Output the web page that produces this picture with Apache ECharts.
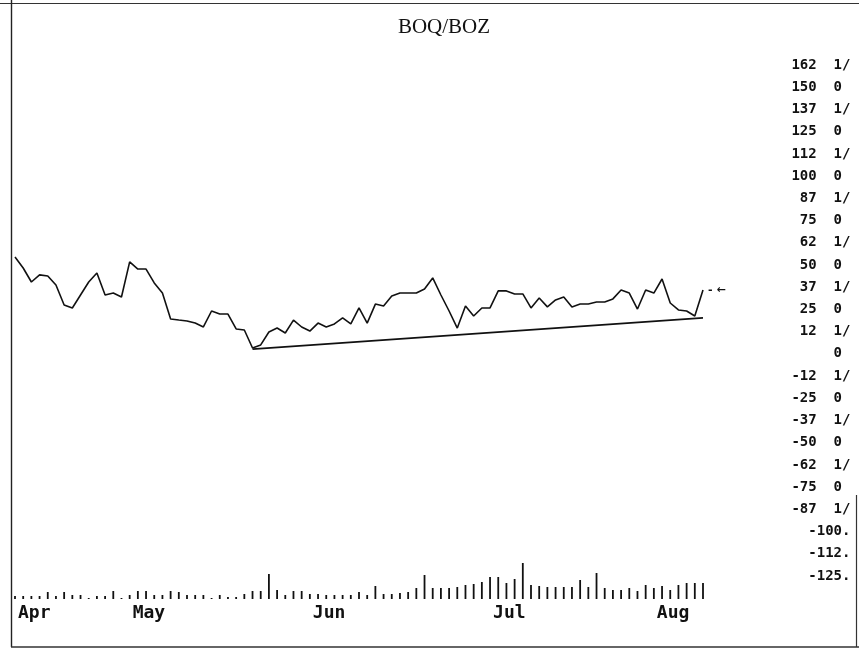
<!DOCTYPE html>
<html><head><meta charset="utf-8">
<script src="https://cdn.jsdelivr.net/npm/echarts@6/dist/echarts.min.js"></script>
<style>html,body{margin:0;padding:0;background:#fff}#c{width:859px;height:650px}</style>
</head><body><div id="c"></div>
<script>
const chartTitle = "BOQ/BOZ";
// spread, one value per trading day (right-axis units)
const spread = [54.5,48.3,40.4,44.4,43.8,38.7,27.5,25.8,33.1,40.4,
  45.5,33.1,34.2,32.0,51.7,47.7,47.7,39.9,34.2,19.6,
  19.0,18.5,17.3,15.1,24.1,22.4,22.4,14.0,13.4,3.3,
  5.0,12.3,14.5,11.7,19.0,15.1,12.8,17.3,15.1,16.8,
  20.2,16.8,25.8,17.3,28.0,26.9,32.5,34.2,34.2,34.2,
  36.5,42.7,33.1,24.1,14.5,26.9,21.3,25.8,25.8,35.4,
  35.4,33.7,33.7,25.8,31.4,26.4,30.3,32.0,26.4,28.0,
  28.0,29.2,29.2,30.9,35.9,34.2,25.2,35.9,34.2,42.1,
  28.6,24.7,24.1,21.3,35.9];
// volume bars (relative units)
const volume = [3,3,3,3,7,3,7,4,4,1,
  3,3,8,1,4,8,8,4,4,8,
  7,4,4,4,1,4,2,2,5,8,
  8,25,9,4,8,8,5,5,4,4,
  4,4,7,4,13,5,5,6,7,11,
  24,11,11,11,12,14,15,17,22,22,
  16,20,36,14,13,12,12,12,12,19,
  12,26,11,9,9,11,8,14,11,13,
  9,14,16,16,16];
const monthLabels = ["Apr","May","Jun","Jul","Aug"];
const monthStart = [0,14,36,58,78];
const rightTickLabels = ["162 1/","150 0","137 1/","125 0","112 1/","100 0","87 1/","75 0",
  "62 1/","50 0","37 1/","25 0","12 1/","0","-12 1/","-25 0","-37 1/","-50 0","-62 1/",
  "-75 0","-87 1/","-100.","-112.","-125."];
const axisMax = 162.5, axisMin = -125, axisStep = 12.5;
const trendFrom = [29, 2.7];
const trendTo = [84, 20.2];

const days = spread.map((_, i) => String(i));
function fmtRight(v) {
  const k = Math.round((axisMax - v) / axisStep);
  const s = rightTickLabels[k];
  if (s === undefined) return '';
  const p = s.split(' ');
  if (p.length === 2) return p[0].padStart(4, ' ') + '  ' + p[1];
  if (s.endsWith('.')) return '   ' + s;
  return '      ' + s;
}
const ink = '#111';
const chart = echarts.init(document.getElementById('c'), null, {renderer: 'canvas'});
chart.setOption({
  animation: false,
  backgroundColor: '#fff',
  title: {text: chartTitle, left: 439, top: 12, textAlign: 'center',
    textStyle: {fontFamily: 'Liberation Serif', fontSize: 21, fontWeight: 'normal', color: ink}},
  grid: [
    {left: 15, width: 688, top: 65, height: 511},
    {left: 15, width: 688, top: 560, height: 39}
  ],
  xAxis: [
    {type: 'category', gridIndex: 0, data: days, boundaryGap: false,
      axisLine: {show: false}, axisTick: {show: false}, axisLabel: {show: false}, splitLine: {show: false}},
    {type: 'category', gridIndex: 1, data: days, boundaryGap: false,
      axisLine: {show: false}, axisTick: {show: false}, splitLine: {show: false},
      axisLabel: {show: true, margin: 5, align: 'left', padding: [0, 0, 0, 3], hideOverlap: false,
        interval: (idx) => monthStart.indexOf(idx) >= 0,
        formatter: (val, idx) => { const m = monthStart.indexOf(Number(val)); return m >= 0 ? monthLabels[m] : ''; },
        fontFamily: 'DejaVu Sans Mono', fontWeight: 'bold', fontSize: 18, color: ink}}
  ],
  yAxis: [
    {type: 'value', gridIndex: 0, position: 'right', min: axisMin, max: axisMax, interval: axisStep,
      axisLine: {show: false}, axisTick: {show: false}, splitLine: {show: false},
      axisLabel: {show: true, margin: 80, align: 'left', formatter: fmtRight,
        fontFamily: 'DejaVu Sans Mono', fontWeight: 'bold', fontSize: 14, color: ink}},
    {type: 'value', gridIndex: 1, min: 0, max: 39, show: false}
  ],
  series: [
    {type: 'line', xAxisIndex: 0, yAxisIndex: 0, data: spread, symbol: 'none',
      lineStyle: {color: ink, width: 1.6}, silent: true,
      endLabel: {show: true, formatter: '- \u2190', distance: 5, color: ink,
        fontFamily: 'DejaVu Sans', fontWeight: 'bold', fontSize: 11}},
    {type: 'line', xAxisIndex: 0, yAxisIndex: 0, data: [trendFrom, trendTo], symbol: 'none',
      lineStyle: {color: ink, width: 1.7}, silent: true},
    {type: 'bar', xAxisIndex: 1, yAxisIndex: 1, data: volume, barWidth: 1.8,
      itemStyle: {color: ink}, silent: true}
  ],
  graphic: [
    {type: 'line', shape: {x1: 0, y1: 3.5, x2: 859, y2: 3.5}, style: {stroke: '#333', lineWidth: 1.2}},
    {type: 'line', shape: {x1: 11.5, y1: 0, x2: 11.5, y2: 647}, style: {stroke: '#222', lineWidth: 1.4}},
    {type: 'line', shape: {x1: 11, y1: 647, x2: 859, y2: 647}, style: {stroke: '#333', lineWidth: 1.4}},
    {type: 'line', shape: {x1: 856.5, y1: 495, x2: 856.5, y2: 647}, style: {stroke: '#333', lineWidth: 1.2}}
  ]
});
</script>
</body></html>
